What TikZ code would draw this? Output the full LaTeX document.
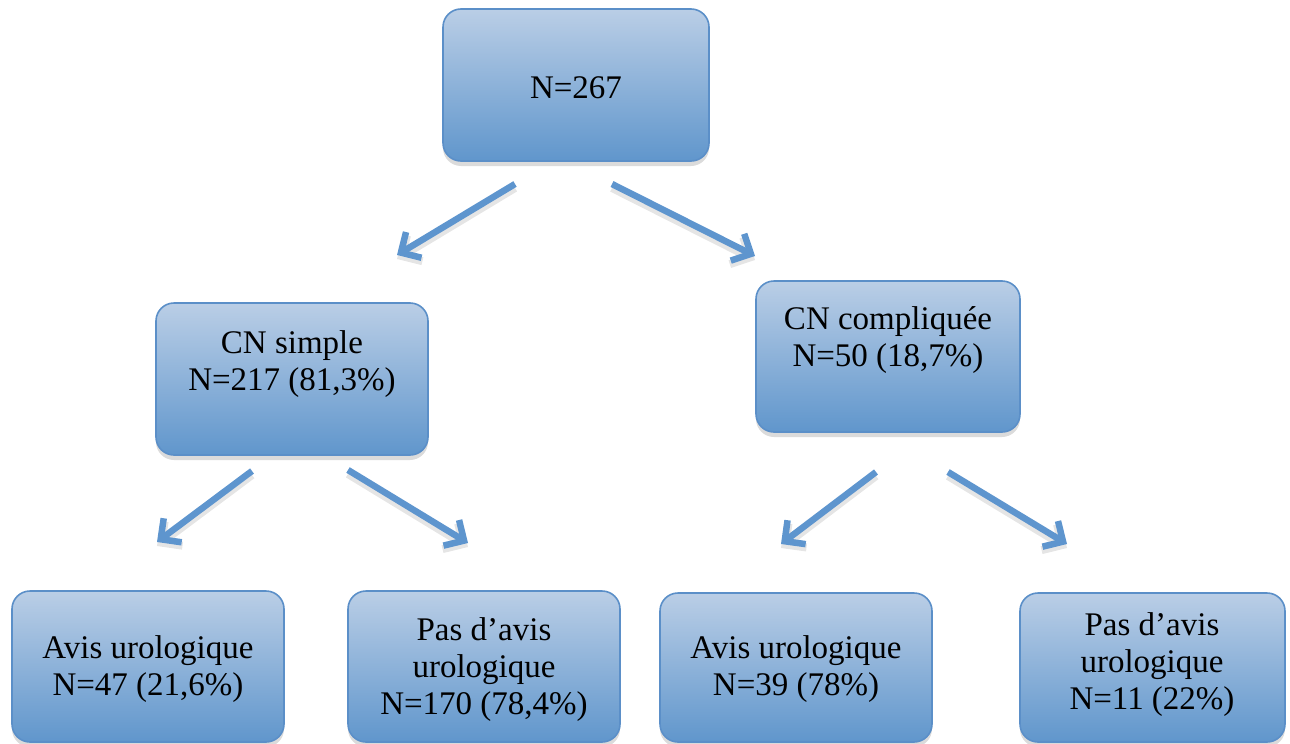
\documentclass[tikz,border=0pt]{standalone}
\usepackage{fontspec}
\setmainfont{Liberation Serif}
\usetikzlibrary{arrows.meta,shadows}
\definecolor{boxtop}{HTML}{BACEE6}
\definecolor{boxbot}{HTML}{6096CC}
\definecolor{boxline}{HTML}{5B8FC8}
\definecolor{arrowc}{HTML}{5E95CE}
\tikzset{
  flowbox/.style={draw=boxline, line width=1.6pt, rounded corners=18pt,
    top color=boxtop, bottom color=boxbot, inner sep=0pt,
    drop shadow={shadow xshift=0pt, shadow yshift=-5pt, opacity=0.14, fill=black}},
  boxtext/.style={align=center, inner sep=0pt, font=\fontsize{33}{37}\selectfont, text=black},
  flowarrow/.style={draw=arrowc, line width=6.5pt, line cap=butt,
    -{Straight Barb[length=15pt,width=30pt]},
    preaction={draw=black, opacity=0.10, line width=8pt, transform canvas={yshift=-4pt}}}
}
\begin{document}
\begin{tikzpicture}[x=1pt,y=-1pt]
\useasboundingbox (0,0) rectangle (1290,744);
% boxes
\node[flowbox, minimum width=266pt, minimum height=152pt] (top) at (576,85) {};
\node[flowbox, minimum width=272pt, minimum height=152pt] (cs) at (292,379) {};
\node[flowbox, minimum width=264pt, minimum height=151pt] (cc) at (888,356.5) {};
\node[flowbox, minimum width=272pt, minimum height=151pt] (b1) at (148,666.5) {};
\node[flowbox, minimum width=272pt, minimum height=151pt] (b2) at (484,666.5) {};
\node[flowbox, minimum width=272pt, minimum height=149pt] (b3) at (796,667.5) {};
\node[flowbox, minimum width=265pt, minimum height=149pt] (b4) at (1152.5,667.5) {};
% texts
\node[boxtext] (ttop) at (576,88) {N=267};
\node[boxtext] (tcs) at (292,364) {CN simple\\N=217 (81,3\%)};
\node[boxtext] (tcc) at (888,340) {CN compliquée\\N=50 (18,7\%)};
\node[boxtext] (tb1) at (148,669) {Avis urologique\\N=47 (21,6\%)};
\node[boxtext] (tb2) at (484,670) {Pas d’avis\\urologique\\N=170 (78,4\%)};
\node[boxtext] (tb3) at (796,669) {Avis urologique\\N=39 (78\%)};
\node[boxtext] (tb4) at (1152,665) {Pas d’avis\\urologique\\N=11 (22\%)};
% arrow ends
\coordinate (a1s) at (515,184); \coordinate (a1e) at (397,255);
\coordinate (a2s) at (612,184); \coordinate (a2e) at (755,256);
\coordinate (a3s) at (252,471); \coordinate (a3e) at (157,542);
\coordinate (a4s) at (348,470); \coordinate (a4e) at (468,543);
\coordinate (a5s) at (876,472); \coordinate (a5e) at (781,544);
\coordinate (a6s) at (948,472); \coordinate (a6e) at (1067,544);
\draw[flowarrow] (a1s) -- (a1e);
\draw[flowarrow] (a2s) -- (a2e);
\draw[flowarrow] (a3s) -- (a3e);
\draw[flowarrow] (a4s) -- (a4e);
\draw[flowarrow] (a5s) -- (a5e);
\draw[flowarrow] (a6s) -- (a6e);
\end{tikzpicture}
\end{document}
